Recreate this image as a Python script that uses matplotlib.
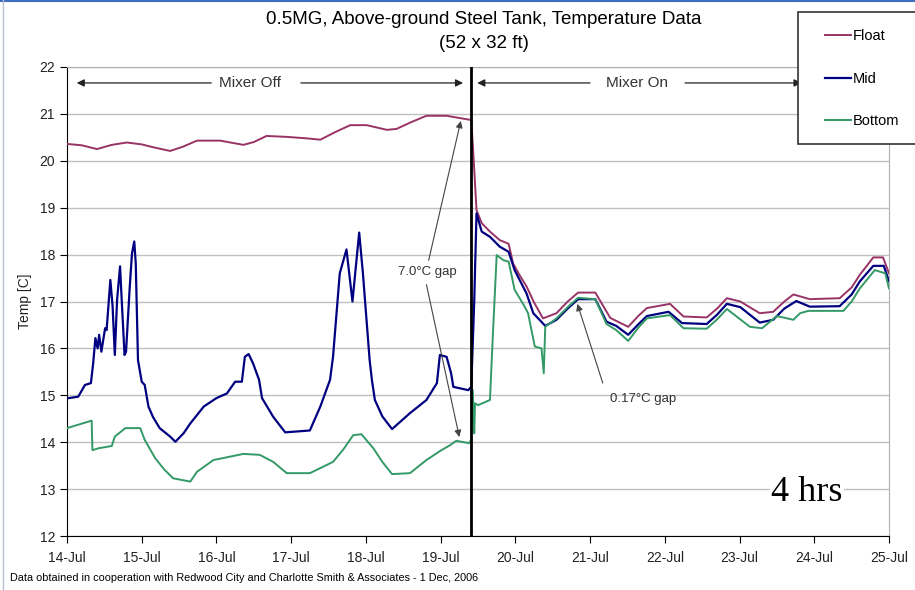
import matplotlib
matplotlib.use('Agg')
import matplotlib.pyplot as plt
from matplotlib.lines import Line2D
from matplotlib.patches import Rectangle

plt.rcParams['font.family'] = ['Liberation Sans', 'DejaVu Sans']

# days since 14-Jul 00:00
day_labels = ['14-Jul', '15-Jul', '16-Jul', '17-Jul', '18-Jul', '19-Jul',
              '20-Jul', '21-Jul', '22-Jul', '23-Jul', '24-Jul', '25-Jul']

float_d = [0.00, 0.20, 0.40, 0.60, 0.80, 1.00, 1.15, 1.38, 1.55, 1.74, 2.05, 2.36,
           2.50, 2.67, 2.94, 3.20, 3.39, 3.60, 3.79, 4.01, 4.28, 4.41, 4.60, 4.81,
           5.08, 5.37, 5.41, 5.44, 5.48, 5.55, 5.66, 5.79, 5.91, 5.97, 6.05, 6.15,
           6.25, 6.37, 6.55, 6.70, 6.84, 7.07, 7.27, 7.51, 7.65, 7.76, 8.07, 8.25,
           8.56, 8.70, 8.83, 9.01, 9.27, 9.45, 9.60, 9.72, 9.94, 10.34, 10.50, 10.61,
           10.79, 10.92, 11.00]
float_t = [20.36, 20.33, 20.25, 20.34, 20.39, 20.35, 20.29, 20.21, 20.30, 20.43, 20.43, 20.34,
           20.40, 20.53, 20.51, 20.48, 20.45, 20.62, 20.76, 20.76, 20.66, 20.68, 20.82, 20.96,
           20.96, 20.88, 20.87, 20.09, 18.95, 18.67, 18.49, 18.31, 18.23, 17.81, 17.58, 17.32,
           16.98, 16.64, 16.75, 17.00, 17.19, 17.19, 16.65, 16.46, 16.70, 16.86, 16.95, 16.68,
           16.66, 16.85, 17.07, 17.00, 16.75, 16.78, 17.00, 17.15, 17.05, 17.07, 17.30, 17.57,
           17.94, 17.94, 17.60]

mid_d = [0.02, 0.15, 0.24, 0.32, 0.35, 0.38, 0.41, 0.43, 0.46, 0.51, 0.53, 0.58,
         0.61, 0.64, 0.67, 0.71, 0.73, 0.77, 0.79, 0.84, 0.87, 0.90, 0.92, 0.95,
         1.00, 1.04, 1.09, 1.15, 1.24, 1.38, 1.45, 1.56, 1.65, 1.83, 2.00, 2.14,
         2.25, 2.34, 2.38, 2.43, 2.49, 2.57, 2.61, 2.76, 2.92, 3.25, 3.39, 3.52,
         3.56, 3.65, 3.74, 3.82, 3.91, 3.96, 4.05, 4.08, 4.12, 4.22, 4.35, 4.59,
         4.81, 4.95, 4.99, 5.08, 5.14, 5.17, 5.37, 5.41, 5.45, 5.48, 5.55, 5.66,
         5.79, 5.91, 5.99, 6.15, 6.24, 6.40, 6.55, 6.70, 6.84, 7.07, 7.22, 7.35,
         7.51, 7.65, 7.76, 8.05, 8.23, 8.56, 8.70, 8.83, 9.01, 9.27, 9.45, 9.60,
         9.76, 9.94, 10.34, 10.50, 10.61, 10.79, 10.93, 11.00]
mid_t = [14.94, 14.97, 15.22, 15.26, 15.68, 16.22, 16.00, 16.29, 15.93, 16.43, 16.39, 17.46,
         16.90, 15.86, 17.03, 17.75, 17.10, 15.86, 15.93, 17.32, 18.03, 18.28, 17.81, 15.75,
         15.29, 15.22, 14.76, 14.54, 14.30, 14.12, 14.01, 14.19, 14.40, 14.76, 14.94, 15.04,
         15.29, 15.29, 15.82, 15.88, 15.68, 15.33, 14.94, 14.54, 14.21, 14.25, 14.76, 15.33,
         15.82, 17.60, 18.11, 17.00, 18.47, 17.60, 15.75, 15.33, 14.90, 14.55, 14.28, 14.62,
         14.90, 15.26, 15.86, 15.82, 15.47, 15.18, 15.11, 15.18, 17.03, 18.88, 18.49, 18.38,
         18.17, 18.06, 17.67, 17.17, 16.75, 16.48, 16.61, 16.85, 17.05, 17.05, 16.57, 16.48,
         16.29, 16.52, 16.69, 16.78, 16.54, 16.52, 16.72, 16.95, 16.88, 16.55, 16.61, 16.85,
         17.01, 16.89, 16.90, 17.15, 17.43, 17.76, 17.76, 17.43]

bottom_d = [0.00, 0.33, 0.34, 0.42, 0.60, 0.64, 0.78, 0.98, 1.04, 1.18, 1.30, 1.42, 1.65,
            1.74, 1.96, 2.36, 2.58, 2.76, 2.94, 3.25, 3.56, 3.70, 3.83, 3.94, 4.10, 4.22,
            4.35, 4.59, 4.81, 5.00, 5.13, 5.21, 5.38, 5.41, 5.43, 5.45, 5.46, 5.50, 5.66,
            5.70, 5.75, 5.84, 5.91, 5.99, 6.11, 6.17, 6.26, 6.35, 6.38, 6.40, 6.55, 6.70,
            6.84, 7.07, 7.22, 7.35, 7.51, 7.65, 7.76, 8.07, 8.25, 8.56, 8.70, 8.83, 9.14,
            9.30, 9.50, 9.72, 9.81, 9.92, 10.39, 10.50, 10.61, 10.81, 10.95, 11.00]
bottom_t = [14.30, 14.46, 13.83, 13.87, 13.92, 14.12, 14.30, 14.30, 14.05, 13.66, 13.42, 13.23, 13.16,
            13.37, 13.62, 13.75, 13.73, 13.58, 13.34, 13.34, 13.58, 13.85, 14.15, 14.17, 13.87, 13.58,
            13.32, 13.34, 13.62, 13.82, 13.94, 14.03, 13.98, 14.05, 15.11, 14.19, 14.83, 14.79, 14.90,
            16.32, 17.99, 17.88, 17.85, 17.25, 16.93, 16.75, 16.04, 16.00, 15.47, 16.46, 16.64, 16.88,
            17.08, 17.05, 16.52, 16.39, 16.16, 16.45, 16.64, 16.71, 16.43, 16.42, 16.62, 16.84, 16.46,
            16.43, 16.69, 16.61, 16.75, 16.80, 16.80, 17.00, 17.28, 17.67, 17.60, 17.28]

mixer_switch = 5.41

fig = plt.figure(figsize=(9.15, 5.9), dpi=100)
ax = fig.add_axes([67/915, 54/590, 822/915, 469/590])

ax.plot(float_d, float_t, color='#993366', lw=1.4, label='Float', zorder=3)
ax.plot(mid_d, mid_t, color='#000080', lw=1.6, label='Mid', zorder=3)
ax.plot(bottom_d, bottom_t, color='#339966', lw=1.4, label='Bottom', zorder=3)
ax.axvline(mixer_switch, color='black', lw=2, zorder=4)

ax.set_xlim(0, 11)
ax.set_ylim(12, 22)
ax.set_xticks(range(len(day_labels)))
ax.set_xticklabels(day_labels, fontsize=10, color='#222222')
ax.set_yticks(range(12, 23))
ax.tick_params(axis='y', labelsize=10, length=5, labelcolor='#222222')
ax.tick_params(axis='x', length=5, pad=6)
ax.grid(axis='y', color='#c0c0c0', lw=1)
ax.set_axisbelow(True)
for s in ['top', 'right']:
    ax.spines[s].set_color('#b0b0b0')
ax.set_ylabel('Temp [C]', fontsize=10, labelpad=5, color='#222222')

arr = dict(arrowstyle='-|>', color='#222222', lw=0.9, mutation_scale=11,
           shrinkA=0, shrinkB=0)
# Mixer Off
ax.text(2.45, 21.66, 'Mixer Off', ha='center', va='center', fontsize=11, color='#333333')
ax.annotate('', xy=(0.13, 21.66), xytext=(1.93, 21.66), arrowprops=arr)
ax.annotate('', xy=(5.30, 21.66), xytext=(3.13, 21.66), arrowprops=arr)
# Mixer On
ax.text(7.63, 21.66, 'Mixer On', ha='center', va='center', fontsize=11, color='#333333')
ax.annotate('', xy=(5.49, 21.66), xytext=(7.00, 21.66), arrowprops=arr)
ax.annotate('', xy=(9.83, 21.66), xytext=(8.27, 21.66), arrowprops=arr)

gap = dict(arrowstyle='-|>', color='#444444', lw=0.8, mutation_scale=10,
           shrinkA=0, shrinkB=0)
ax.text(4.82, 17.63, '7.0°C gap', ha='center', va='center', fontsize=9.5, color='#333333')
ax.annotate('', xy=(5.27, 20.85), xytext=(4.84, 17.88), arrowprops=gap)
ax.annotate('', xy=(5.25, 14.11), xytext=(4.81, 17.36), arrowprops=gap)
ax.text(7.71, 14.92, '0.17°C gap', ha='center', va='center', fontsize=9.5, color='#333333')
ax.annotate('', xy=(6.83, 16.95), xytext=(7.17, 15.26), arrowprops=gap)

ax.text(0.900, 0.092, '4 hrs', transform=ax.transAxes, ha='center', va='center',
        fontsize=26, family='Liberation Serif', color='black',
        bbox=dict(facecolor='white', edgecolor='none', pad=1), zorder=5)

fig.text(484/915, 1 - 20/590, '0.5MG, Above-ground Steel Tank, Temperature Data',
         ha='center', va='center', fontsize=13.5)
fig.text(484/915, 1 - 43/590, '(52 x 32 ft)', ha='center', va='center', fontsize=13.5)
fig.text(10/915, 12/590, 'Data obtained in cooperation with Redwood City and '
         'Charlotte Smith & Associates - 1 Dec, 2006', ha='left', va='center', fontsize=7.8)

# legend box (runs past the right edge of the picture)
fig.add_artist(Rectangle((798/915, 446/590), 0.2, 132/590, transform=fig.transFigure,
                         facecolor='white', edgecolor='#333333', lw=1.2, zorder=10))
leg = fig.legend(loc='upper left', bbox_to_anchor=(818/915, 1 - 22/590), frameon=False,
                 fontsize=10.5, borderpad=0, labelspacing=1.95, handlelength=1.75,
                 handletextpad=0.1)
leg.set_zorder(11)

# outer frame of the picture
fig.add_artist(Line2D([0, 1], [0.999, 0.999], color='#3d6cc0', lw=1.5))
fig.add_artist(Line2D([3/915, 3/915], [0, 1], color='#b8c0d0', lw=1))

fig.savefig('out.png', dpi=100)
